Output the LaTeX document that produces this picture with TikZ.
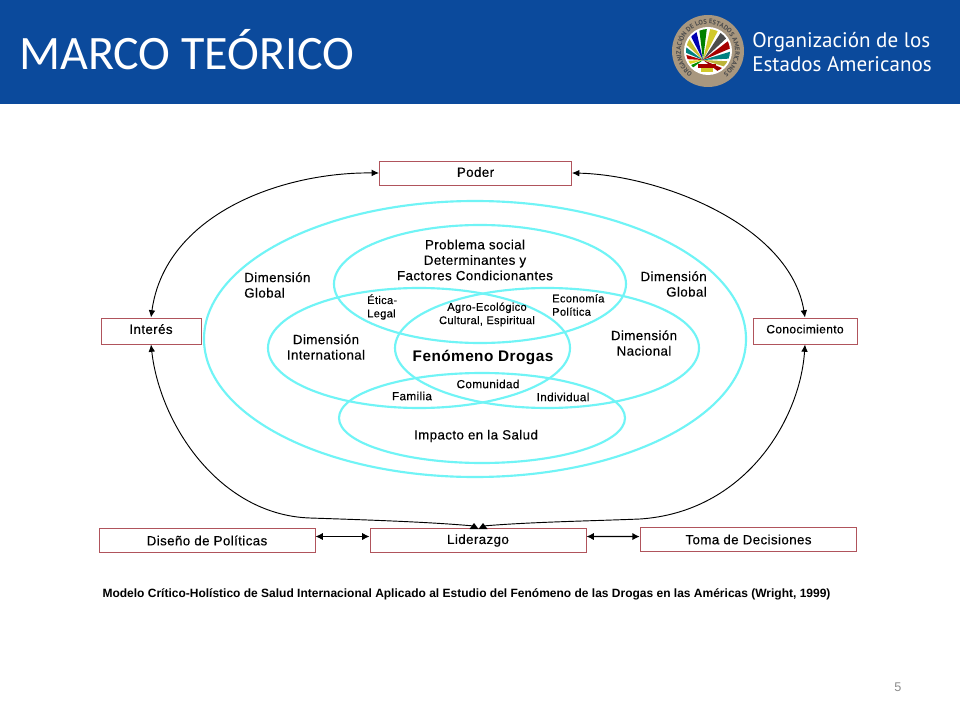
\documentclass[tikz,border=0pt]{standalone}
\usepackage{fontspec}
\setmainfont{Liberation Sans}
\newfontfamily\titlefont{Carlito}
\newfontfamily\logofont{PT Sans}
\newfontfamily\lblfont[LetterSpace=3,FakeBold=0.25]{Liberation Sans}
\newfontfamily\dropfont[LetterSpace=3]{Liberation Sans}
\usetikzlibrary{arrows.meta,decorations.text}
\definecolor{bandblue}{HTML}{0B4A9C}
\definecolor{boxred}{HTML}{B0545C}
\definecolor{ringcyan}{HTML}{70F4F6}
\definecolor{sealtan}{HTML}{A8977F}
\tikzset{
  box/.style={draw=boxred,line width=0.7pt,fill=white,inner sep=0pt,font=\lblfont\fontsize{10}{12}\selectfont},
  ring/.style={draw=ringcyan,line width=1.6pt},
  lbl/.style={align=center,inner sep=0pt,font=\lblfont\fontsize{10}{11.6}\selectfont},
  small/.style={align=left,inner sep=0pt,font=\lblfont\fontsize{8.3}{10}\selectfont},
  mid/.style={inner sep=0pt,font=\lblfont\fontsize{8.8}{10}\selectfont},
  conn/.style={black,line width=0.7pt,{Latex[length=5.5pt,width=5pt]}-{Latex[length=5.5pt,width=5pt]}},
  oneconn/.style={black,line width=0.7pt,{Latex[length=5.5pt,width=5pt]}-},
  thickconn/.style={black,line width=1pt,{Latex[length=5.5pt,width=5.5pt]}-{Latex[length=5.5pt,width=5.5pt]}},
}
\begin{document}
\begin{tikzpicture}[x=0.75pt,y=-0.75pt]
  \useasboundingbox (0,0) rectangle (960,720);
  \fill[white] (0,0) rectangle (960,720);
  \fill[bandblue] (0,0) rectangle (960,104);
  \node[anchor=west,inner sep=0pt,white,font=\titlefont\fontsize{36}{40}\selectfont] (title) at (19,50) {MARCO TEÓRICO};
  % seal
  \fill[sealtan] (708,51) circle (36);
  \fill[white] (708,51) circle (24);
  \begin{scope}
    \clip (708,51) circle (22);
    \foreach \ang/\col in {150/green!55!black,170/yellow!85!black,190/red!70!black,210/teal,230/yellow!75!black,250/blue!70!black,270/green!50!black,290/yellow!80!black,310/black!70,330/red!65!black,350/teal,10/yellow!70!black,30/red!60!black}
      \fill[\col] (703,60) -- ++(\ang-7:40) arc[start angle=\ang-7,end angle=\ang+7,radius=40] -- cycle;
    \fill[red!65!black] (698,64) rectangle (716,68);
    \fill[yellow!80!black] (701,68) rectangle (713,72);
  \end{scope}
  \begin{scope}[shift={(708,51)},y=0.75pt]
    \path[decorate,decoration={text along path,text align=center,
      text={|\logofont\bfseries\fontsize{5}{5}\selectfont\color{black!70}|ORGANIZACIÓN DE LOS ESTADOS AMERICANOS}}]
      (0,-27) arc[start angle=-90,end angle=-450,radius=27];
  \end{scope}
  \node[anchor=west,align=left,inner sep=0pt,white,font=\logofont\fontsize{15.8}{17.6}\selectfont] (logo) at (752,52) {Organización de los\\Estados Americanos};
  % rings
  \draw[ring] (475,339) ellipse (271 and 138);
  \draw[ring] (480,284) ellipse (146 and 59);
  \draw[ring] (419,348) ellipse (151 and 60);
  \draw[ring] (547,348) ellipse (152 and 60);
  \draw[ring] (482,418) ellipse (143 and 45);
  % boxes
  \node[box,minimum width=144pt,minimum height=18pt,text depth=1.5pt] (poder) at (475.5,173) {Poder};
  \node[box,minimum width=75pt,minimum height=19.5pt,text depth=3pt] (interes) at (151,331) {Interés};
  \node[box,minimum width=78pt,minimum height=19.5pt,text depth=3pt,font=\lblfont\fontsize{9}{11}\selectfont] (conoc) at (805,331) {Conocimiento};
  \node[box,minimum width=162pt,minimum height=18pt] (diseno) at (207,540.5) {Diseño de Políticas};
  \node[box,minimum width=162pt,minimum height=18pt] (lider) at (478,540.5) {Liderazgo};
  \node[box,minimum width=162.5pt,minimum height=18.5pt] (toma) at (748.5,539.5) {Toma de Decisiones};
  \coordinate (liderL) at (474,526);
  \coordinate (liderR) at (483,526);
  % labels
  \node[lbl,align=left,anchor=west] (globalL) at (244,285) {Dimensión\\Global};
  \node[lbl,align=right,anchor=east] (globalR) at (707,284) {Dimensión\\Global};
  \node[lbl] (problema) at (475,260) {Problema social\\Determinantes y\\Factores Condicionantes};
  \node[lbl] (intern) at (326,347) {Dimensión\\International};
  \node[lbl] (nacional) at (644,343) {Dimensión\\Nacional};
  \node[small,anchor=west] (etica) at (367,307) {Ética-\\Legal};
  \node[small,anchor=west] (economia) at (552,305) {Economía\\Política};
  \node[small,align=center] (agro) at (487,314.5) {Agro-Ecológico\\Cultural, Espiritual};
  \node[inner sep=0pt,font=\dropfont\bfseries\fontsize{11.5}{13}\selectfont] (drogas) at (483,357.5) {Fenómeno Drogas};
  \node[mid] (comunidad) at (488,384) {Comunidad};
  \node[mid] (familia) at (412,396) {Familia};
  \node[mid] (individual) at (563,397) {Individual};
  \node[lbl] (impacto) at (476,436) {Impacto en la Salud};
  \node[inner sep=0pt,font=\bfseries\fontsize{9}{10}\selectfont] (caption) at (466.5,594) {Modelo Crítico-Holístico de Salud Internacional Aplicado al Estudio del Fenómeno de las Drogas en las Américas (Wright, 1999)};
  \node[inner sep=0pt,black!45,font=\fontsize{9.5}{11}\selectfont] (pagina) at (898,687) {5};
  % connectors
  \draw[conn] (poder.west) .. controls (280,172) and (165,215) .. (interes.north);
  \draw[conn] (poder.east) .. controls (660,175) and (790,225) .. (conoc.north);
  \draw[oneconn] (interes.south) .. controls (160,425) and (220,515) .. (310,518) .. controls (370,520) and (430,522) .. (liderL);
  \draw[oneconn] (conoc.south) .. controls (800,420) and (745,512) .. (640,519) .. controls (590,521) and (530,522) .. (liderR);
  \foreach \tip in {liderL,liderR}
    \fill[black] (\tip) ++(0,-3) -- ++(4.5,6) -- ++(-9,0) -- cycle;
  \draw[thickconn] ([yshift=3pt]diseno.east) -- ([yshift=3pt]lider.west);
  \draw[thickconn] ([yshift=3pt]lider.east) -- ([yshift=2.2pt]toma.west);
\end{tikzpicture}
\end{document}
